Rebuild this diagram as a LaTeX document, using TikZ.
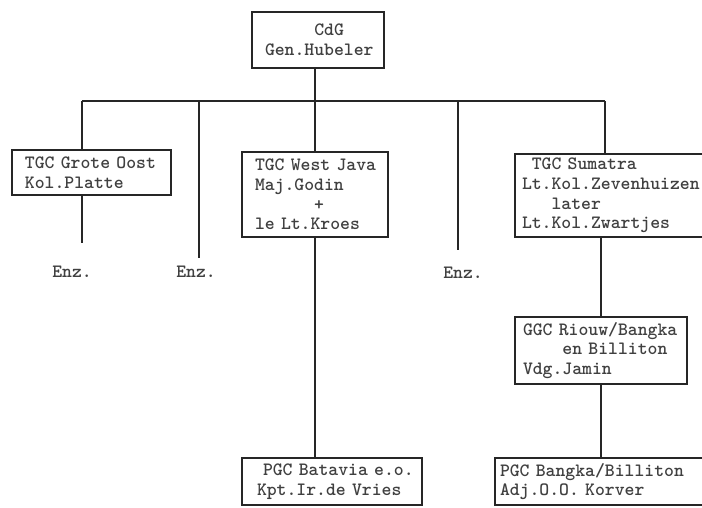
\documentclass[tikz,border=0pt]{standalone}
\usepackage{tikz}
\begin{document}
\begin{tikzpicture}[x=1pt,y=-1pt,
  ink/.style={draw=black!85, line width=1.1pt},
  orgbox/.style={ink, rectangle, inner xsep=0pt, inner ysep=0pt, align=left,
    font=\ttfamily\bfseries\fontsize{18.8}{19.6}\selectfont, text=black!75},
  lpad/.style={execute at begin node={\leftskip=#1\relax}},
  enzlabel/.style={inner sep=0pt, font=\ttfamily\bfseries\fontsize{18.8}{19.6}\selectfont, text=black!75}]
\useasboundingbox (0,0) rectangle (702,507);
\fill[white] (0,0) rectangle (702,507);

% boxes
\node[orgbox, minimum height=56pt, text width=132pt, lpad=13pt] (cdg) at (318,40)
  {\hphantom{00000}CdG\\Gen.Hubeler};
\node[orgbox, minimum height=45pt, text width=159pt, lpad=13pt] (grote) at (91.5,172.5)
  {TGC~Grote~Oost\\Kol.Platte};
\node[orgbox, minimum height=85pt, text width=146pt, lpad=13pt] (west) at (315,194.5)
  {TGC~West~Java\\Maj.Godin\\\hphantom{000000}+\\le~Lt.Kroes};
\node[orgbox, minimum height=83pt, text width=200pt, lpad=7pt] (sumatra) at (615,195.5)
  {\hphantom{0}TGC~Sumatra\\Lt.Kol.Zevenhuizen\\\hphantom{000}later\\Lt.Kol.Zwartjes};
\node[orgbox, minimum height=67pt, text width=172pt, lpad=8pt] (ggc) at (601,350.5)
  {GGC~Riouw/Bangka\\\hphantom{0000}en~Billiton\\Vdg.Jamin};
\node[orgbox, minimum height=47pt, text width=180pt, lpad=15pt] (batavia) at (332,481.5)
  {\hspace*{6pt}PGC~Batavia~e.o.\\Kpt.Ir.de~Vries};
\node[orgbox, minimum height=47pt, text width=220pt, lpad=5pt] (bangka) at (605,481.5)
  {PGC~Bangka/Billiton\\Adj.O.O.~Korver};

% Enz. labels
\node[enzlabel] (enz1) at (72,272) {Enz.};
\node[enzlabel] (enz2) at (196,272) {Enz.};
\node[enzlabel] (enz3) at (463,273) {Enz.};

% bar and drop ends
\coordinate (barL) at (82,101);
\coordinate (barR) at (605,101);
\coordinate (barA) at (199,101);
\coordinate (barB) at (458,101);
\coordinate (e1) at (82,243);
\coordinate (e2) at (199,258);
\coordinate (e3) at (458,250);

% connectors
\draw[ink] (barL) -- (barR);
\draw[ink] (west.north |- cdg.south) -- (west.north);
\draw[ink] (barL) -- (barL |- grote.north);
\draw[ink] (barL |- grote.south) -- (e1);
\draw[ink] (barA) -- (e2);
\draw[ink] (barB) -- (e3);
\draw[ink] (barR) -- (barR |- sumatra.north);
\draw[ink] (ggc.north |- sumatra.south) -- (ggc.north);
\draw[ink] (ggc.south) -- (ggc.south |- bangka.north);
\draw[ink] (west.south) -- (west.south |- batavia.north);
\end{tikzpicture}
\end{document}
